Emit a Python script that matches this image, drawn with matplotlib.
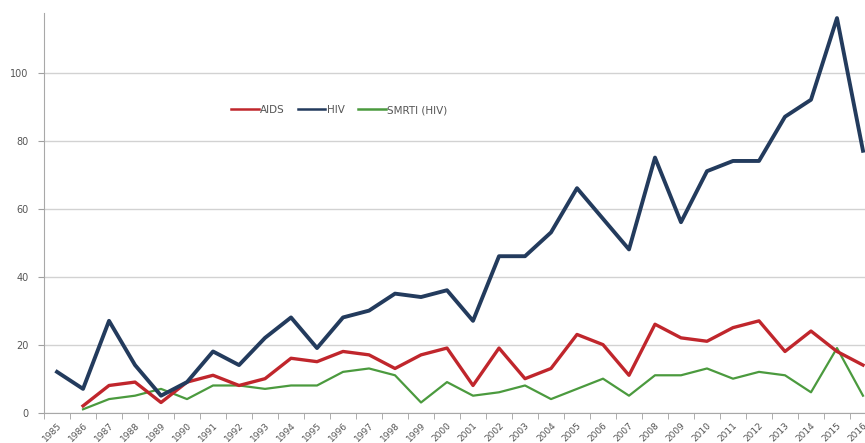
import numpy as np
import matplotlib
matplotlib.use('Agg')
import matplotlib.pyplot as plt

years = [str(y) for y in range(1985, 2017)]

hiv = [12, 7, 27, 14, 5, 9, 18, 14, 22, 28, 19, 28, 30, 35, 34, 36,
       27, 46, 46, 53, 66, 57, 48, 75, 56, 71, 74, 74, 87, 92, 116, 77]
aids = [None, 2, 8, 9, 3, 9, 11, 8, 10, 16, 15, 18, 17, 13, 17, 19,
        8, 19, 10, 13, 23, 20, 11, 26, 22, 21, 25, 27, 18, 24, 18, 14]
smrti = [None, 1, 4, 5, 7, 4, 8, 8, 7, 8, 8, 12, 13, 11, 3, 9,
         5, 6, 8, 4, 7, 10, 5, 11, 11, 13, 10, 12, 11, 6, 19, 5]

def arr(v):
    return np.array([np.nan if x is None else x for x in v], dtype=float)

x = np.arange(len(years))

fig = plt.figure(figsize=(8.65, 4.43), dpi=100)
ax = fig.add_axes([0.0509, 0.0684, 0.9618, 0.9023])

ax.plot(x, arr(aids), color='#c0262c', lw=2.4, label='AIDS', zorder=3)
ax.plot(x, arr(hiv), color='#233b5d', lw=2.8, label='HIV', zorder=4)
ax.plot(x, arr(smrti), color='#4b9a3e', lw=1.6, label='SMRTI (HIV)', zorder=2)

ax.set_xlim(-0.5, len(years) - 0.5)
ax.set_ylim(0, 117.5)
ax.set_yticks(range(0, 101, 20))
ax.yaxis.grid(True, color='#d2d2d2', lw=1)
ax.set_axisbelow(True)

ax.set_xticks(x)
ax.set_xticklabels(years, rotation=45, ha='right', rotation_mode='anchor',
                   fontsize=6.5, color='#555555')
ax.tick_params(axis='x', length=0, pad=6)
ax.set_xticks(np.arange(-0.5, len(years), 1), minor=True)
ax.tick_params(axis='x', which='minor', length=4, color='#a0a0a0')
ax.tick_params(axis='y', length=4, color='#a0a0a0', labelsize=7,
               labelcolor='#555555', pad=7)

for s in ['top', 'right']:
    ax.spines[s].set_visible(False)
for s in ['left', 'bottom']:
    ax.spines[s].set_color('#a8a8a8')

leg = ax.legend(loc='center', bbox_to_anchor=(0.355, 0.757), ncol=3, frameon=False,
                fontsize=7.5, handlelength=2.6, handletextpad=0.15,
                columnspacing=1.3, labelcolor='#555555')
for ln in leg.get_lines():
    ln.set_linewidth(1.8)

fig.savefig('out.png', dpi=100)
